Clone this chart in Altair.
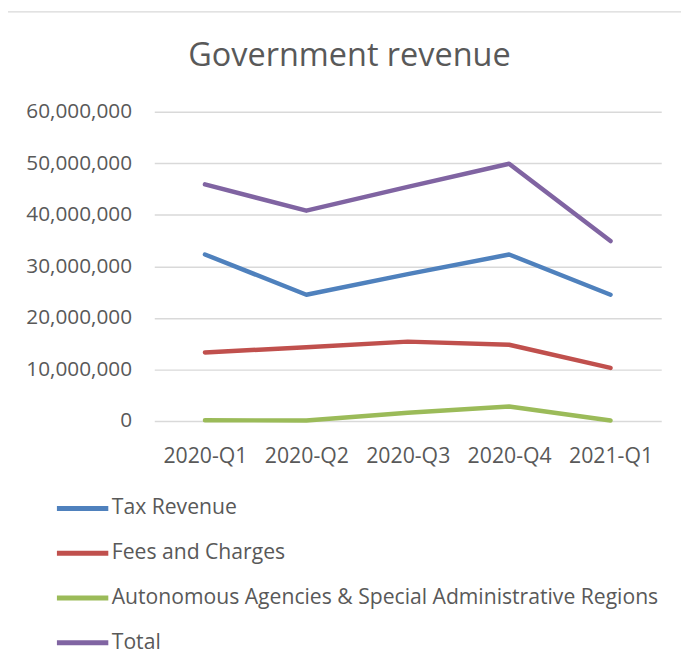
import altair as alt
import pandas as pd

quarters = ["2020-Q1", "2020-Q2", "2020-Q3", "2020-Q4", "2021-Q1"]
series_names = ["Tax Revenue", "Fees and Charges",
                "Autonomous Agencies & Special Administrative Regions", "Total"]
tax_revenue = [32300000, 24500000, 28500000, 32300000, 24500000]
fees_charges = [13300000, 14300000, 15400000, 14800000, 10300000]
autonomous = [150000, 100000, 1600000, 2800000, 100000]
total = [45900000, 40800000, 45400000, 49900000, 34900000]
colors = ["#4F81BD", "#C0504D", "#9BBB59", "#8064A2"]
y_ticks = [0, 10000000, 20000000, 30000000, 40000000, 50000000, 60000000]

rows = []
for name, vals in zip(series_names, [tax_revenue, fees_charges, autonomous, total]):
    for q, v in zip(quarters, vals):
        rows.append({"quarter": q, "series": name, "value": v})
df = pd.DataFrame(rows)

FONT = "Open Sans"
GREY = "#595959"

lines = alt.Chart(df).mark_line(strokeWidth=4.5, strokeCap="round", strokeJoin="round").encode(
    x=alt.X("quarter:N", sort=quarters, title=None,
            scale=alt.Scale(type="point", padding=0.5),
            axis=alt.Axis(labelAngle=0, ticks=False, domain=False, grid=False,
                          labelFontSize=21.5, labelColor=GREY, labelFont=FONT,
                          labelPadding=25)),
    y=alt.Y("value:Q", title=None,
            scale=alt.Scale(domain=[0, 60000000], nice=False),
            axis=alt.Axis(values=y_ticks, format=",d", ticks=False, domain=False,
                          gridColor="#D9D9D9", gridWidth=1.5,
                          labelFontSize=21, labelColor=GREY, labelFont=FONT,
                          labelPadding=23)),
    color=alt.Color("series:N", sort=series_names,
                    scale=alt.Scale(domain=series_names, range=colors),
                    legend=alt.Legend(title=None, orient="none", direction="vertical",
                                      legendX=-101, legendY=373,
                                      symbolType="stroke", symbolSize=2704,
                                      symbolStrokeWidth=5, labelFontSize=21.4,
                                      labelFont=FONT, labelColor=GREY,
                                      labelOffset=1, rowPadding=6.3, padding=0,
                                      labelLimit=700)),
)

frame = pd.DataFrame({"k": [0]})
top_border = alt.Chart(frame).mark_rule(color="#D9D9D9", strokeWidth=1.5, clip=False).encode(
    x=alt.value(-149), x2=alt.value(540), y=alt.value(-101))
left_border = alt.Chart(frame).mark_rule(color="#D9D9D9", strokeWidth=1.5, clip=False).encode(
    x=alt.value(-149), y=alt.value(-101), y2=alt.value(570))

chart = alt.layer(top_border, left_border, lines).properties(
    width=513, height=313,
    padding={"left": 148, "top": 101, "right": 20, "bottom": 246},
    autosize=alt.AutoSizeParams(type="none"),
    title=alt.Title("Government revenue", fontSize=32.8, font=FONT, color=GREY,
                    fontWeight="normal", anchor="middle", frame="group",
                    dx=-59, offset=-62),
).configure_view(stroke=None)

chart.save("out.html", embed_options={"renderer": "svg", "actions": False})
